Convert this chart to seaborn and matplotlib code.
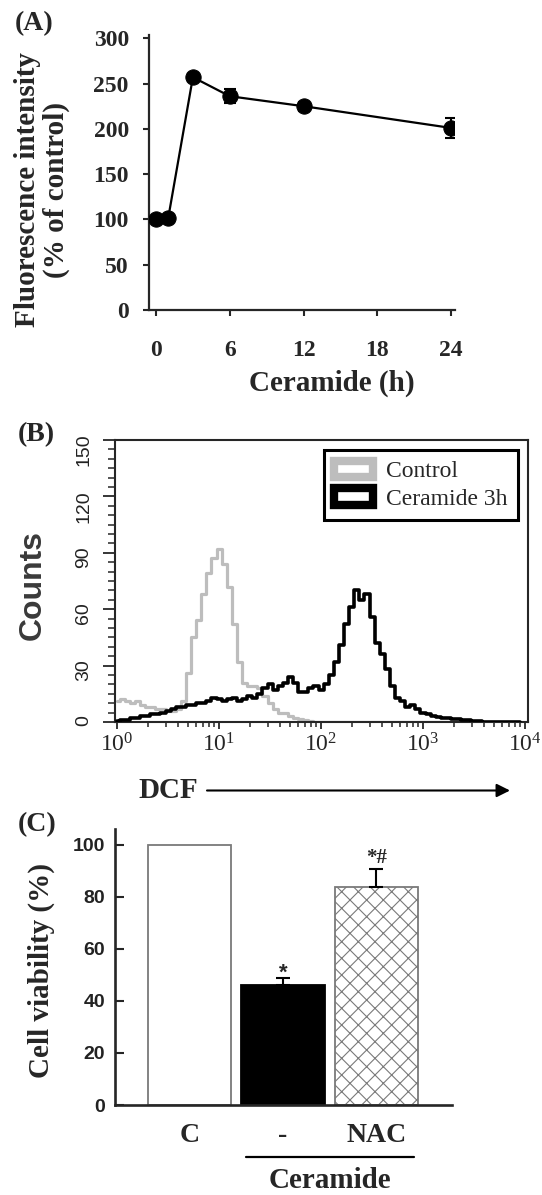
import numpy as np
import pandas as pd
import matplotlib
matplotlib.use("Agg")
import matplotlib.pyplot as plt
from matplotlib.patches import Patch
from matplotlib.ticker import MultipleLocator, LogLocator, NullFormatter
import seaborn as sns

# ── data ──────────────────────────────────────────────────────────────────────
# (A) DCF fluorescence over time
hours = [0, 1, 3, 6, 12, 24]
intensity = [100, 102, 257, 236, 225, 201]
intensity_err = [2, 3, 4, 8, 5, 11]
hour_ticks = [0, 6, 12, 18, 24]

# (B) flow cytometry histograms, channels every 0.05 log10 units (10^0 .. 10^4)
dcf_log = np.round(np.arange(0, 4.0, 0.05), 2)
control_counts = [
    11, 12, 11, 10, 11, 9, 8, 8, 7, 7,
    6, 6, 7, 11, 26, 45, 54, 68, 79, 87,
    92, 84, 72, 52, 32, 21, 19, 19, 18, 14,
    10, 7, 5, 5, 3, 2, 1.5, 1, 0.5, 0,
    0, 0, 0, 0, 0, 0, 0, 0, 0, 0,
    0, 0, 0, 0, 0, 0, 0, 0, 0, 0,
    0, 0, 0, 0, 0, 0, 0, 0, 0, 0,
    0, 0, 0, 0, 0, 0, 0, 0, 0, 0,
]
ceramide_counts = [
    0.5, 1, 1, 2, 2, 3, 3, 4, 4, 5,
    6, 7, 8, 8, 9, 9, 10, 10, 11, 13,
    12, 11, 12, 13, 11, 12, 14, 13, 15, 18,
    20, 17, 19, 21, 24, 21, 16, 16, 18, 19,
    17, 20, 25, 32, 41, 52, 61, 70, 65, 68,
    56, 42, 36, 28, 19, 13, 11, 8, 9, 7,
    5, 4, 3, 2.5, 2, 2, 1.5, 1.5, 1, 1,
    0.5, 0.5, 0, 0, 0, 0, 0, 0, 0, 0,
]
dcf_decades = [0, 1, 2, 3, 4]
count_ticks = [0, 30, 60, 90, 120, 150]

# (C) cell viability
groups = ["C", "-", "NAC"]
viability = [100, 46.2, 83.6]
viability_err = [0, 2.4, 7.2]
bar_colors = ["white", "black", "white"]
viability_ticks = [0, 20, 40, 60, 80, 100]

# ── style ─────────────────────────────────────────────────────────────────────
sns.set_style("ticks")
SERIF = ["Liberation Serif", "DejaVu Serif"]
SANS = ["Liberation Sans", "DejaVu Sans"]
plt.rcParams["font.family"] = SERIF
plt.rcParams["mathtext.fontset"] = "custom"
plt.rcParams["mathtext.rm"] = "Liberation Sans"
plt.rcParams["mathtext.default"] = "regular"
plt.rcParams["hatch.linewidth"] = 0.8

W, H = 542, 1195
fig = plt.figure(figsize=(W / 100, H / 100), dpi=100)


def rect(left, top, right, bottom):
    # pixel box (from top-left) -> figure fraction [l, b, w, h]
    return [left / W, 1 - bottom / H, (right - left) / W, (bottom - top) / H]


def ftext(px, py, s, **kw):
    fig.text(px / W, 1 - py / H, s, ha="center", va="center", **kw)


# ── (A) ───────────────────────────────────────────────────────────────────────
ax_a = fig.add_axes(rect(149, 35, 454.5, 310))
sns.lineplot(x=hours, y=intensity, ax=ax_a, color="black", lw=1.6,
             marker="o", markersize=11, markeredgecolor="black", zorder=3)
ax_a.errorbar(hours, intensity, yerr=intensity_err, fmt="none", ecolor="black",
              elinewidth=1.5, capsize=4, capthick=1.5, zorder=2)
ax_a.set_xlim(-0.57, 24.28)
ax_a.set_ylim(0, 303.6)
ax_a.set_xticks(hour_ticks)
ax_a.set_yticks(np.arange(0, 301, 50))
sns.despine(ax=ax_a)
for s in ["left", "bottom"]:
    ax_a.spines[s].set_linewidth(1.6)
ax_a.tick_params(axis="both", direction="out", length=4.5, width=1.5,
                 labelsize=17)
ax_a.tick_params(axis="y", pad=10)
ax_a.tick_params(axis="x", pad=17)
for lbl in ax_a.get_xticklabels() + ax_a.get_yticklabels():
    lbl.set_fontweight("bold")
ax_a.set_xlabel("")
ax_a.set_ylabel("")
ftext(42, 190, "Fluorescence intensity\n(% of control)", rotation=90,
      fontsize=21, fontweight="bold", linespacing=1.1)
ftext(332, 383, "Ceramide (h)", fontsize=21, fontweight="bold")
ftext(34, 24, "(A)", fontsize=20, fontweight="bold")

# ── (B) ───────────────────────────────────────────────────────────────────────
ax_b = fig.add_axes(rect(115, 440, 528, 722))
sns.lineplot(x=10 ** dcf_log, y=control_counts, ax=ax_b, color="#bdbdbd",
             lw=2.3, drawstyle="steps-mid", estimator=None, zorder=2)
sns.lineplot(x=10 ** dcf_log, y=ceramide_counts, ax=ax_b, color="black",
             lw=2.6, drawstyle="steps-mid", estimator=None, zorder=3)
ax_b.set_xscale("log")
ax_b.set_xlim(10 ** -0.02, 10 ** 4.03)
ax_b.set_ylim(0, 150)
ax_b.set_xticks([10 ** e for e in dcf_decades])
ax_b.set_xticklabels([f"$10^{{{e}}}$" for e in dcf_decades])
ax_b.xaxis.set_minor_locator(LogLocator(base=10, subs=np.arange(2, 10), numticks=20))
ax_b.xaxis.set_minor_formatter(NullFormatter())
ax_b.set_yticks(count_ticks)
ax_b.yaxis.set_minor_locator(MultipleLocator(5))
for s in ax_b.spines.values():
    s.set_linewidth(1.5)
ax_b.tick_params(axis="x", which="major", direction="out", length=5, width=1.3,
                 labelsize=17, pad=3)
ax_b.tick_params(axis="x", which="minor", direction="out", length=3.5, width=1.1)
ax_b.tick_params(axis="y", which="major", direction="out", length=8.5, width=1.3,
                 labelsize=14, labelrotation=90, pad=8, labelcolor="#222222")
ax_b.tick_params(axis="y", which="minor", direction="out", length=5, width=1.1)
for lbl in ax_b.get_yticklabels():
    lbl.set_fontfamily(SANS)
ax_b.set_xlabel("")
ax_b.set_ylabel("")
handles = [Patch(facecolor="white", edgecolor="#bdbdbd", linewidth=6, label="Control"),
           Patch(facecolor="white", edgecolor="black", linewidth=6, label="Ceramide 3h")]
leg = ax_b.legend(handles=handles, loc="upper right", bbox_to_anchor=(0.976, 0.9645),
                  fancybox=False, framealpha=1, edgecolor="black",
                  prop={"family": SERIF, "size": 17}, handlelength=1.63,
                  handleheight=0.7, handletextpad=0.55, borderpad=0.45,
                  labelspacing=0.25, borderaxespad=0)
leg.get_frame().set_linewidth(2.2)
ftext(33, 585, "Counts", rotation=90, fontsize=23, fontweight="bold",
      family=SANS, color="#3a3a3a")
ftext(168, 791, "DCF", fontsize=21, fontweight="bold")
ax_b.annotate("", xy=(510 / W, 1 - 790.5 / H), xytext=(207 / W, 1 - 790.5 / H),
              xycoords="figure fraction", textcoords="figure fraction",
              arrowprops=dict(arrowstyle="-|>", lw=1.5, color="black",
                              mutation_scale=20, shrinkA=0, shrinkB=0))
ftext(36, 435, "(B)", fontsize=20, fontweight="bold")

# ── (C) ───────────────────────────────────────────────────────────────────────
ax_c = fig.add_axes(rect(115, 829, 452, 1105))
df_c = pd.DataFrame({"group": groups, "viability": viability})
sns.barplot(data=df_c, x="group", y="viability", hue="group", palette=bar_colors,
            width=0.89, saturation=1, errorbar=None, legend=False, ax=ax_c)
edge_colors = ["#7a7a7a", "black", "#7a7a7a"]
hatches = [None, None, "xx"]
for patch, ec, hp in zip(ax_c.patches, edge_colors, hatches):
    patch.set_edgecolor(ec)
    patch.set_linewidth(1.3)
    if hp:
        patch.set_hatch(hp)
idx = [i for i, e in enumerate(viability_err) if e > 0]
ax_c.errorbar(idx, [viability[i] for i in idx],
              yerr=[[0] * len(idx), [viability_err[i] for i in idx]],
              fmt="none", ecolor="black", elinewidth=1.5, capsize=5, capthick=1.5)
ax_c.text(1, viability[1] + viability_err[1], "*", ha="center", va="baseline",
          fontsize=16, fontweight="bold", family=SANS)
ax_c.text(2, viability[2] + viability_err[2] + 2.0, "*#", ha="center",
          va="baseline", fontsize=15, fontweight="bold")
ax_c.set_xlim(-0.80, 2.81)
ax_c.set_ylim(0, 106)
ax_c.set_yticks(viability_ticks)
sns.despine(ax=ax_c)
for s in ["left", "bottom"]:
    ax_c.spines[s].set_linewidth(1.9)
ax_c.tick_params(axis="y", direction="in", length=6.5, width=1.5, labelsize=14,
                 pad=7, labelcolor="#222222")
ax_c.tick_params(axis="x", length=0, labelsize=20, pad=13)
for lbl in ax_c.get_yticklabels():
    lbl.set_fontfamily(SANS)
    lbl.set_fontweight("bold")
for lbl in ax_c.get_xticklabels():
    lbl.set_fontweight("bold")
ax_c.set_xlabel("")
ax_c.set_ylabel("")
ax_c.plot([0.6, 2.4], [-0.188, -0.188], color="black", lw=1.6, clip_on=False,
          transform=ax_c.get_xaxis_transform())
ax_c.text(1.5, -0.275, "Ceramide", ha="center", va="center", fontsize=21,
          fontweight="bold", transform=ax_c.get_xaxis_transform())
ftext(41, 971, "Cell viability (%)", rotation=90, fontsize=21, fontweight="bold")
ftext(37, 825, "(C)", fontsize=20, fontweight="bold")

fig.savefig("out.png", dpi=100)
